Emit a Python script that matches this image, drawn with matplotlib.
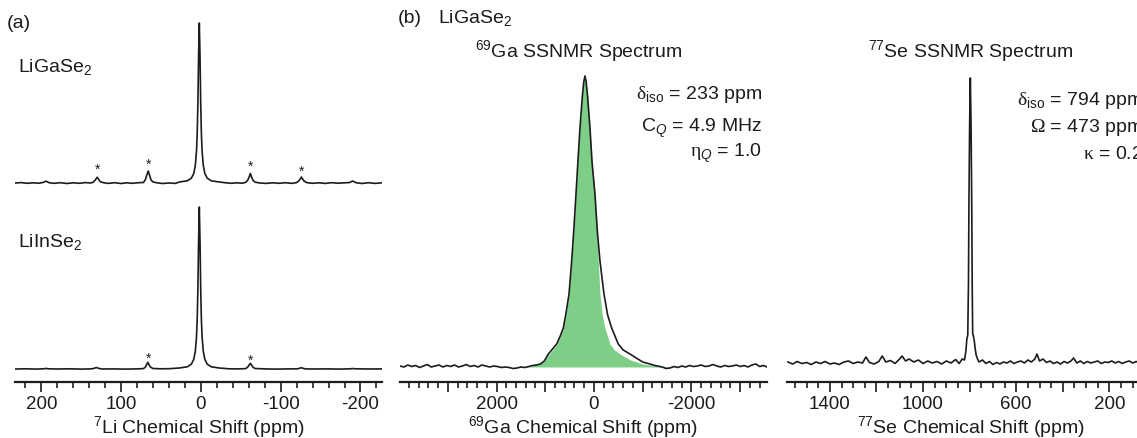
import numpy as np
import matplotlib
matplotlib.use("Agg")
import matplotlib.pyplot as plt
from matplotlib.ticker import MultipleLocator, FuncFormatter

plt.rcParams['font.family'] = ['Liberation Sans', 'DejaVu Sans']
plt.rcParams['mathtext.fontset'] = 'custom'
plt.rcParams['mathtext.rm'] = 'Liberation Serif'
plt.rcParams['mathtext.it'] = 'Liberation Sans:italic'
plt.rcParams['mathtext.sf'] = 'Liberation Sans'

# ---- (a) 7Li spectra, intensity in px above own baseline ----
li_ga_ppm = [232, 225, 218, 210, 203, 198, 196, 194, 192, 190, 184, 176, 168, 160, 152, 145, 138,
             135, 132.5, 130, 128, 126, 122, 116, 108, 100, 93, 86, 78, 72, 69.5, 68, 66, 64, 62.5,
             60, 55, 48, 40, 32, 27, 17, 12, 9, 7, 5.5, 4.6, 3.75, 2.9, 2, 1.1, 0.25, -0.6, -1.5,
             -3, -5, -8, -13, -23, -30, -38, -45, -52, -56, -58.5, -60.5, -62, -63.5, -65.5, -68,
             -74, -82, -90, -98, -106, -114, -120, -122.5, -124.5, -126, -127.5, -129.5, -133, -140,
             -148, -156, -164, -172, -180, -186, -188.5, -190, -192, -195, -202, -210, -218, -228]
li_ga_int = [0.0, 0.4, -0.3, 0.2, -0.2, 0.5, 1.2, 1.8, 1.0, 0.2, -0.3, 0.3, -0.5, 0.2, -0.3, 0.4, 0.0,
             0.8, 3.0, 5.7, 3.4, 1.2, 0.3, -0.4, 0.3, -0.5, 0.2, -0.3, 0.3, 0.5, 3.5, 7.5, 12.0, 7.0, 3.0,
             1.0, 0.2, -0.5, 0.0, -0.4, 1.0, 2.2, 4.8, 9.4, 17.5, 32, 50, 80, 127, 160, 127, 80, 50, 32,
             17.5, 9.4, 4.8, 2.2, 1.0, 0.3, -0.3, 0.2, -0.2, 0.6, 2.5, 6.0, 9.5, 6.0, 2.5, 0.8,
             0.0, -0.4, 0.2, -0.3, 0.3, -0.4, 0.4, 2.0, 4.0, 6.0, 4.0, 1.8, 0.3, -0.3,
             0.2, -0.4, 0.3, -0.2, 0.2, 0.4, 1.3, 2.0, 1.2, 0.2, -0.5, 0.3, -0.4, 0.2]
li_ga_star_ppm = [130, 66, -62, -126]
li_ga_star_y = [17, 22, 20, 15]

li_in_ppm = [232, 220, 205, 196, 194, 192, 180, 165, 150, 138, 134, 131, 128, 124, 110, 95, 80, 72,
             69.5, 68, 66.5, 65, 63, 60, 50, 40, 27, 17, 12, 9, 7, 5.5, 4.6, 3.75, 2.9, 2, 1.1, 0.25,
             -0.6, -1.5, -3, -5, -8, -13, -23, -35, -48, -56, -58.5, -60.5, -62, -63.5, -65.5, -68,
             -80, -95, -110, -121, -124, -126, -128, -131, -145, -160, -175, -188, -190, -193, -210, -228]
li_in_int = [0.0, 0.2, -0.1, 0.3, 0.6, 0.2, 0.0, 0.2, -0.1, 0.1, 0.6, 1.5, 0.6, 0.0, 0.1, -0.1, 0.1, 0.4,
             2.0, 4.5, 6.7, 4.2, 1.8, 0.5, 0.2, 0.3, 1.0, 2.2, 4.8, 9.5, 17.7, 32, 50, 81, 128, 162, 128, 81,
             50, 32, 17.7, 9.5, 4.8, 2.2, 1.0, 0.2, 0.1, 0.4, 1.8, 4.0, 5.7, 3.8, 1.6, 0.5,
             0.1, -0.1, 0.1, 0.2, 0.8, 1.3, 0.7, 0.1, 0.0, 0.1, -0.1, 0.2, 0.5, 0.2, 0.0, 0.1]
li_in_star_ppm = [66, -62]
li_in_star_y = [14, 12.5]

# ---- (b) 69Ga spectrum (black) and simulation (green) ----
ga_exp_ppm = [3980, 3900, 3820, 3740, 3660, 3580, 3500, 3420, 3340, 3260, 3180, 3100, 3020, 2940,
              2860, 2780, 2700, 2620, 2540, 2460, 2380, 2300, 2220, 2140, 2060, 1980, 1900, 1820,
              1740, 1660, 1580, 1500, 1420, 1340, 1260, 1180, 1100, 1020, 936, 850, 765, 700, 629,
              570, 512, 457, 410, 369, 330, 287, 240, 210, 185, 160, 130, 82, 40, -20, -70, -123,
              -205, -280, -363, -498, -600, -738, -900, -1000, -1148, -1250, -1350,
              -1400, -1480, -1560, -1640, -1720, -1800, -1880, -1960, -2040, -2120, -2200, -2280,
              -2360, -2440, -2520, -2600, -2680, -2760, -2840, -2920, -3000, -3080, -3160, -3240,
              -3320, -3400, -3480, -3550]
ga_exp_int = [1, 0, 2, 0.5, 1.5, -0.5, 1, 2.5, 0, 1, 2, 0, 1.5, 0.5,
              2, 0, 1, 2.5, 0.5, 1.5, 0, 2, 1, 0, 1, 0.5, -0.5, 0,
              -0.5, -1.5, -1, 0, -0.5, 0.5, 1.5, 2, 3, 6, 13, 18, 23, 30, 39,
              55, 73, 106, 140, 173, 205, 239, 270, 285, 291, 285, 270, 239, 205, 173, 135, 106,
              73, 52, 39, 23, 17, 13, 8, 5, 3, 1.5, 0.5,
              0, -1.5, -1, 0.5, -0.5, 1, 0, 1.5, 0.5, 1, 2, 0.5,
              1, 2.5, 1, 0, 1.5, 0.5, 1, 2, 0.5, 1.5, 0, 2,
              3, 0.5, 1.5, 0]
ga_sim_ppm = [1500, 1300, 1150, 1020, 936, 850, 765, 700, 629, 570, 512, 457, 410, 369, 330, 287,
              240, 210, 185, 160, 130, 82, 40, -20, -55, -88, -123, -170, -225, -328, -420, -533,
              -750, -1005, -1300, -1600, -1900]
ga_sim_int = [0, 1, 3, 6, 12, 17, 22, 29, 38, 54, 72, 105, 140, 173, 205, 239,
              270, 285, 291, 285, 270, 239, 205, 173, 135, 106, 73, 52, 39, 23, 17, 13,
              7, 3, 1, 0.3, 0]

# ---- (b) 77Se spectrum ----
se_ppm = [1580, 1560, 1540, 1520, 1500, 1480, 1460, 1440, 1420, 1400, 1380, 1360, 1340, 1320, 1300,
          1280, 1260, 1245, 1230, 1210, 1190, 1175, 1160, 1140, 1120, 1105, 1090, 1075, 1060, 1040,
          1020, 1000, 980, 960, 940, 920, 900, 880, 860, 845, 832, 822, 816, 812, 808, 805, 803,
          800, 797, 794, 791, 789, 787, 784, 780, 776, 772, 766, 760, 745, 730, 715, 700, 685, 670,
          655, 640, 625, 610, 595, 580, 565, 550, 535, 520, 511, 500, 485, 470, 455, 440, 425, 410,
          395, 380, 365, 354, 340, 325, 310, 295, 280, 265, 250, 235, 220, 205, 190, 175, 160, 145,
          130, 115, 100, 85, 70, 55, 40, 25, 10, 0]
se_int = [1, -1, 1.5, -0.5, 0.5, -1.5, 1, -0.5, 1.5, -1, 0, -1.5, 1, 2, -0.5,
          1, 0, 6, 0.5, -1, 1.5, 7, 1, 2.5, -0.5, 3, 7, 2, 4, 1,
          3, -0.5, 2, 0, 1.5, -1, 2, 0, 3.5, -0.5, 4, 3, 12, 24, 28, 80, 160,
          240, 285, 240, 160, 80, 30, 27, 22, 14, 8, 4, 1, 3, -0.5, 1.5, -1.5, 0.5, -1,
          1, 0, 2, -0.5, 1, 2, 0, 3, 1, 4, 9, 2, 4, 0.5, 2, -0.5, 1, -1,
          1.5, 0, 2, 5, 0, 2, -0.5, 1.5, 0, 1, 2, -0.5, 1, 0.5, 2, 0, 1.5, -0.5,
          1, 2, 0, 1.5, -0.5, 1, 0, 1, 0, 0.5]

W, H = 1137, 438
ink = '#1c1c1c'
green = '#7dcf88'
fs = 14

fig = plt.figure(figsize=(W / 100, H / 100), dpi=100)


def px_axes(x0, x1, top=10, spine=382):
    return fig.add_axes([x0 / W, 1 - spine / H, (x1 - x0) / W, (spine - top) / H])


def style_axis(ax, xlim, major, minor, label, every, start=0):
    ax.set_xlim(*xlim)
    ax.set_ylim(0, 372)
    for s in ['left', 'right', 'top']:
        ax.spines[s].set_visible(False)
    ax.spines['bottom'].set_linewidth(1.6)
    ax.spines['bottom'].set_color(ink)
    ax.set_yticks([])
    ax.xaxis.set_major_locator(MultipleLocator(major))
    ax.xaxis.set_minor_locator(MultipleLocator(minor))
    ax.xaxis.set_major_formatter(FuncFormatter(
        lambda v, p: ('%d' % v) if round(v - start) % every == 0 else ''))
    ax.tick_params(axis='x', which='major', length=7, width=1.2, color=ink,
                   labelsize=13.5, labelcolor=ink, pad=3)
    ax.tick_params(axis='x', which='minor', length=4, width=1.2, color=ink)
    ax.set_xlabel(label, fontsize=fs, color=ink)
    ax.xaxis.set_label_coords(0.5, -0.086)
    ax.patch.set_alpha(0)


def ftext(x, y, s, **kw):
    kw.setdefault('fontsize', fs)
    kw.setdefault('color', ink)
    fig.text(x / W, 1 - y / H, s, **kw)


# (a)
ax1 = px_axes(15, 382)
off_top, off_bot = 199, 13
ax1.plot(li_ga_ppm, np.array(li_ga_int) + off_top, color=ink, lw=1.2)
ax1.plot(li_in_ppm, np.array(li_in_int) + off_bot, color=ink, lw=1.2)
for p, y in zip(li_ga_star_ppm, li_ga_star_y):
    ax1.text(p, off_top + y - 8, '*', ha='center', va='baseline', fontsize=10, color=ink)
for p, y in zip(li_in_star_ppm, li_in_star_y):
    ax1.text(p, off_bot + y - 8, '*', ha='center', va='baseline', fontsize=10, color=ink)
style_axis(ax1, (233, -227), 100, 20, r'$^{\mathsf{7}}$Li Chemical Shift (ppm)', 100)

# (b) Ga
ax2 = px_axes(400, 767)
base_ga = 15
ax2.fill_between(ga_sim_ppm, base_ga, np.array(ga_sim_int) + base_ga, color=green, lw=0)
ax2.plot(ga_exp_ppm, np.array(ga_exp_int) + base_ga, color=ink, lw=1.2)
style_axis(ax2, (3980, -3550), 1000, 200, r'$^{\mathsf{69}}$Ga Chemical Shift (ppm)', 2000)

# (b) Se
ax3 = px_axes(787, 1156)
base_se = 19
ax3.plot(se_ppm, np.array(se_int) + base_se, color=ink, lw=1.2)
style_axis(ax3, (1584, 0), 200, 50, r'$^{\mathsf{77}}$Se Chemical Shift (ppm)', 400, start=200)
ax3.xaxis.set_label_coords((971 - 787) / (1156 - 787), -0.086)

# texts
ftext(7, 28, '(a)', ha='left', va='baseline')
ftext(18, 72, r'LiGaSe$_{\mathsf{2}}$', ha='left', va='baseline')
ftext(18, 247, r'LiInSe$_{\mathsf{2}}$', ha='left', va='baseline')
ftext(398, 23, '(b)', ha='left', va='baseline')
ftext(438, 23, r'LiGaSe$_{\mathsf{2}}$', ha='left', va='baseline')
ftext(579, 57, r'$^{\mathsf{69}}$Ga SSNMR Spectrum', ha='center', va='baseline')
ftext(971, 57, r'$^{\mathsf{77}}$Se SSNMR Spectrum', ha='center', va='baseline')

ftext(762, 99, r'$\mathrm{\delta}_{\mathsf{iso}}$ = 233 ppm', ha='right', va='baseline')
ftext(762, 132, r'C$_{Q}$ = 4.9 MHz', ha='right', va='baseline')
ftext(762, 157, r'$\mathrm{\eta}_{Q}$ = 1.0', ha='right', va='baseline')

ftext(1143, 105, r'$\mathrm{\delta}_{\mathsf{iso}}$ = 794 ppm', ha='right', va='baseline')
ftext(1143, 132, r'$\mathrm{\Omega}$ = 473 ppm', ha='right', va='baseline')
ftext(1143, 159, r'$\mathrm{\kappa}$ = 0.2', ha='right', va='baseline')

fig.savefig('out.png', dpi=100)
